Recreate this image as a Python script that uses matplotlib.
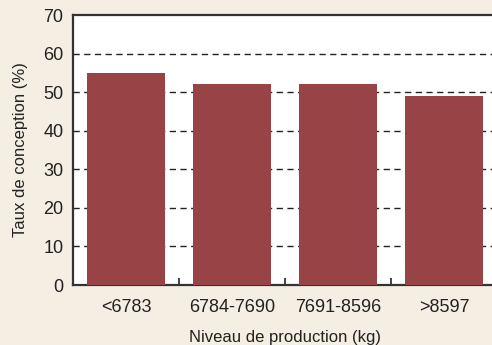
import matplotlib
matplotlib.use("Agg")
import matplotlib.pyplot as plt
from matplotlib import font_manager

categories = ["<6783", "6784-7690", "7691-8596", ">8597"]
values = [55, 52, 52, 49]
yticks = [0, 10, 20, 30, 40, 50, 60, 70]

names = {f.name for f in font_manager.fontManager.ttflist}
fam = "Liberation Sans Narrow" if "Liberation Sans Narrow" in names else "Liberation Sans"
plt.rcParams["font.family"] = [fam, "DejaVu Sans"]

bg = "#f4eee3"
fig = plt.figure(figsize=(4.92, 3.45), dpi=100, facecolor=bg)
ax = fig.add_axes([73/492, 60/345, 424/492, 270/345])
ax.set_facecolor("white")

x = list(range(len(categories)))
ax.bar(x, values, width=0.73, color="#984346", zorder=3)

ax.set_xlim(-0.5, len(categories) - 0.5)
ax.set_ylim(0, 70)
ax.set_yticks(yticks)
for y in yticks[1:-1]:
    ax.axhline(y, color="#222222", lw=1.0, dashes=(4.5, 3.2), zorder=1)

ax.set_xticks(x)
ax.set_xticklabels(categories)
ax.set_xticks([i + 0.5 for i in x[:-1]], minor=True)
ax.tick_params(axis="x", which="major", length=0, pad=10, labelsize=13, colors="#222222")
ax.tick_params(axis="x", which="minor", length=5, width=1.2, direction="in", color="#222222")
ax.tick_params(axis="y", length=0, pad=7, labelsize=13, colors="#222222")

for s in ["left", "bottom", "top"]:
    ax.spines[s].set_linewidth(1.6)
    ax.spines[s].set_color("#333333")
ax.spines["right"].set_visible(False)

ax.set_xlabel("Niveau de production (kg)", fontsize=12, color="#222222", labelpad=10)
ax.set_ylabel("Taux de conception (%)", fontsize=12, color="#222222", labelpad=11)

fig.savefig("out.png", dpi=100, facecolor=bg)
